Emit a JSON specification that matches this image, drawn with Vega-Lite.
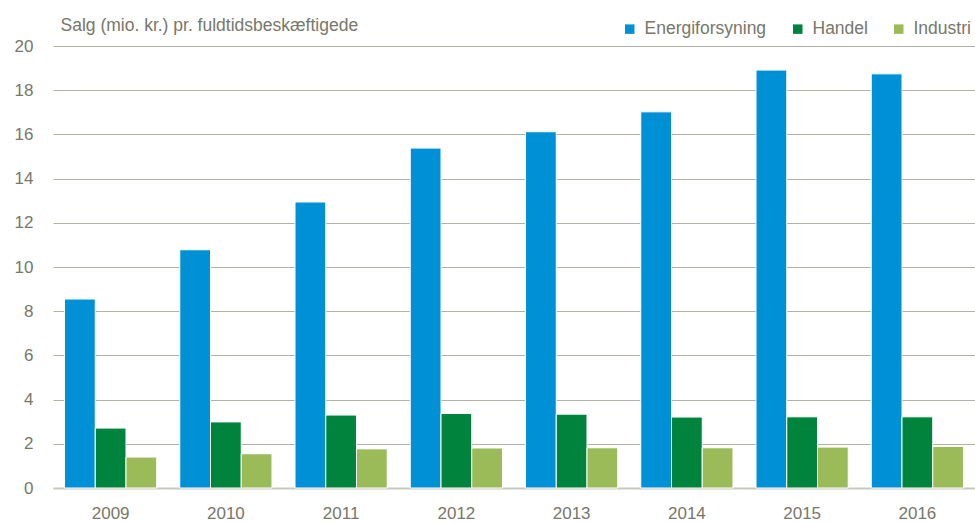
{
  "$schema": "https://vega.github.io/schema/vega-lite/v6.json",
  "autosize": {"type": "none"},
  "width": 922,
  "height": 442,
  "padding": {"left": 53, "top": 46, "right": 0, "bottom": 35},
  "background": "white",
  "config": {
    "view": {"stroke": null},
    "font": "Liberation Sans",
    "axis": {"labelFont": "Liberation Sans", "labelColor": "#77776a", "labelFontSize": 17}
  },
  "data": {
    "values": [
      {"year": "2009", "sector": "Energiforsyning", "value": 8.55},
      {"year": "2009", "sector": "Handel", "value": 2.71},
      {"year": "2009", "sector": "Industri", "value": 1.40},
      {"year": "2010", "sector": "Energiforsyning", "value": 10.78},
      {"year": "2010", "sector": "Handel", "value": 2.99},
      {"year": "2010", "sector": "Industri", "value": 1.55},
      {"year": "2011", "sector": "Energiforsyning", "value": 12.94},
      {"year": "2011", "sector": "Handel", "value": 3.30},
      {"year": "2011", "sector": "Industri", "value": 1.77},
      {"year": "2012", "sector": "Energiforsyning", "value": 15.38},
      {"year": "2012", "sector": "Handel", "value": 3.37},
      {"year": "2012", "sector": "Industri", "value": 1.81},
      {"year": "2013", "sector": "Energiforsyning", "value": 16.12},
      {"year": "2013", "sector": "Handel", "value": 3.34},
      {"year": "2013", "sector": "Industri", "value": 1.82},
      {"year": "2014", "sector": "Energiforsyning", "value": 17.02},
      {"year": "2014", "sector": "Handel", "value": 3.21},
      {"year": "2014", "sector": "Industri", "value": 1.82},
      {"year": "2015", "sector": "Energiforsyning", "value": 18.91},
      {"year": "2015", "sector": "Handel", "value": 3.22},
      {"year": "2015", "sector": "Industri", "value": 1.85},
      {"year": "2016", "sector": "Energiforsyning", "value": 18.74},
      {"year": "2016", "sector": "Handel", "value": 3.22},
      {"year": "2016", "sector": "Industri", "value": 1.88}
    ]
  },
  "mark": {"type": "bar", "stroke": "white", "strokeWidth": 1},
  "encoding": {
    "x": {
      "field": "year",
      "type": "nominal",
      "scale": {"paddingInner": 0.2, "paddingOuter": 0.1},
      "axis": {
        "title": null,
        "labelAngle": 0,
        "ticks": false,
        "labelPadding": 17,
        "domainColor": "#c8c8c0",
        "domainWidth": 2,
        "labelFontSize": 17
      }
    },
    "xOffset": {"field": "sector", "type": "nominal", "sort": ["Energiforsyning", "Handel", "Industri"]},
    "y": {
      "field": "value",
      "type": "quantitative",
      "scale": {"domain": [0, 20], "nice": false},
      "axis": {
        "values": [0, 2, 4, 6, 8, 10, 12, 14, 16, 18, 20],
        "domain": false,
        "ticks": false,
        "labelPadding": 20,
        "gridColor": "#b3b3a3",
        "gridWidth": 1,
        "title": "Salg (mio. kr.) pr. fuldtidsbeskæftigede",
        "titleAngle": 0,
        "titleX": 7,
        "titleY": -16,
        "titleAlign": "left",
        "titleBaseline": "alphabetic",
        "titleFont": "Liberation Sans",
        "titleFontWeight": "normal",
        "titleFontSize": 17.5,
        "titleColor": "#77776a"
      }
    },
    "color": {
      "field": "sector",
      "type": "nominal",
      "sort": ["Energiforsyning", "Handel", "Industri"],
      "scale": {"domain": ["Energiforsyning", "Handel", "Industri"], "range": ["#0090d6", "#00843d", "#9bbb59"]},
      "legend": {
        "title": null,
        "orient": "none",
        "direction": "horizontal",
        "legendX": 568,
        "legendY": -26,
        "padding": 0,
        "symbolType": "square",
        "symbolSize": 90,
        "symbolStrokeWidth": 0,
        "labelFont": "Liberation Sans",
        "labelFontSize": 17.5,
        "labelColor": "#77776a",
        "labelOffset": 6,
        "columnPadding": 22
      }
    }
  }
}
